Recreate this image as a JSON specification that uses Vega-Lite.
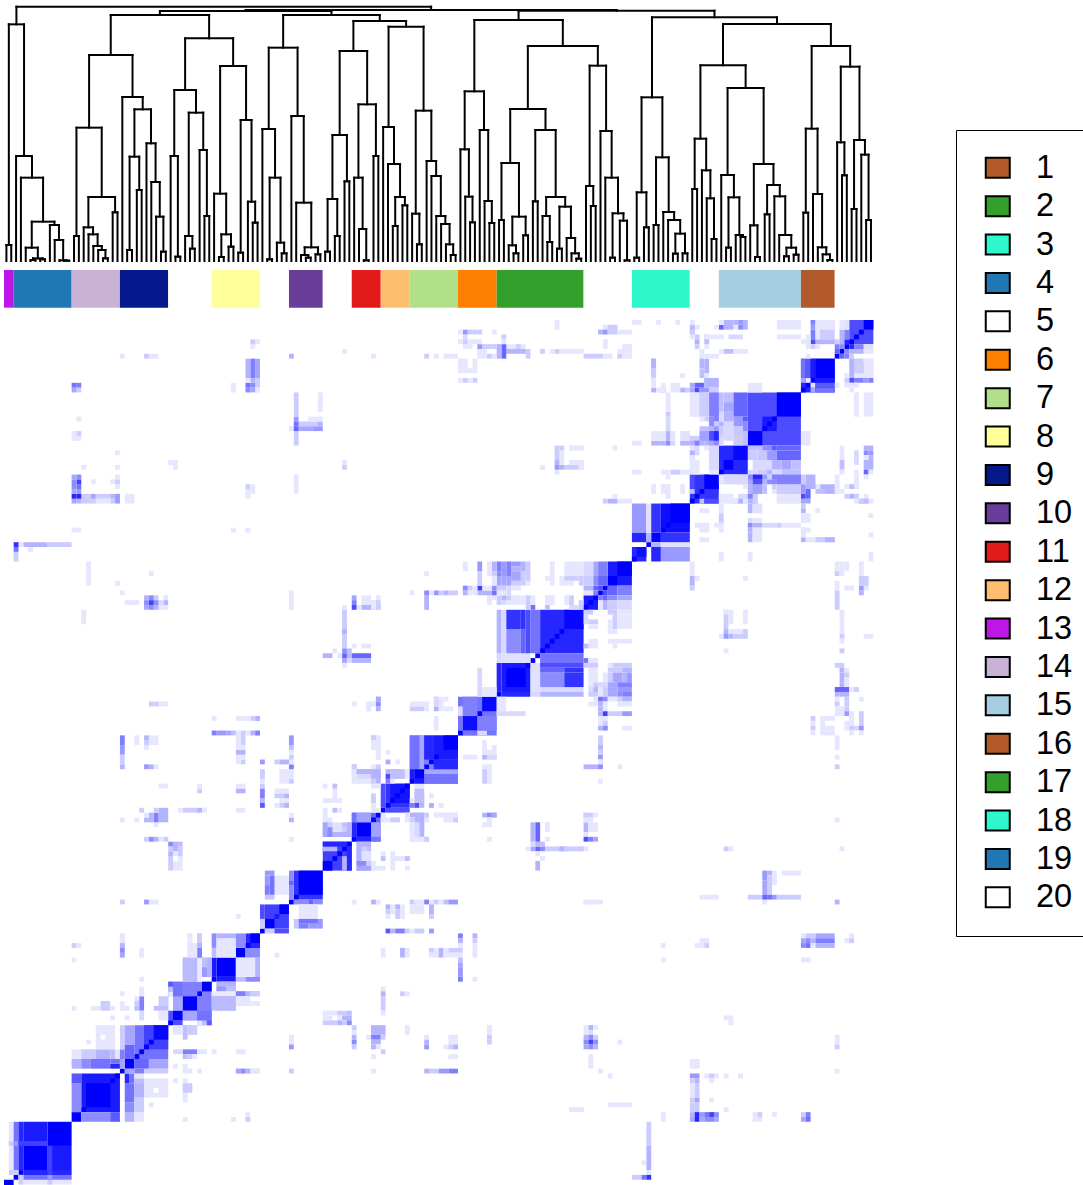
{"$schema":"https://vega.github.io/schema/vega-lite/v6.json","autosize":"none","padding":0,"width":1083,"height":1185,"background":"white",
"resolve":{"scale":{"x":"independent","y":"independent"}},
"config":{"view":{"stroke":null}},
"datasets":{
"tree":[
{"l":0,"r":1,"h":48,"p":0,"q":0},{"l":5,"r":6,"h":3,"p":0,"q":0},{"l":7,"r":8,"h":5,"p":0,"q":0},{"l":5.5,"r":7.5,"h":8,"p":3,"q":5},{"l":4,"r":6.5,"h":40,"p":0,"q":8},{"l":12,"r":13,"h":1,"p":0,"q":0},{"l":11,"r":12.5,"h":2,"p":0,"q":1},{"l":10,"r":11.75,"h":63,"p":0,"q":2},{"l":9,"r":10.88,"h":108,"p":0,"q":63},{"l":5.25,"r":9.94,"h":118,"p":40,"q":108},{"l":3,"r":7.59,"h":250,"p":0,"q":118},{"l":2,"r":5.3,"h":315,"p":0,"q":250},{"l":0.5,"r":3.65,"h":710,"p":48,"q":315},
{"l":14,"r":15,"h":75,"p":0,"q":0},{"l":20,"r":21,"h":8,"p":0,"q":0},{"l":19,"r":20.5,"h":33,"p":0,"q":8},{"l":18,"r":19.75,"h":45,"p":0,"q":33},{"l":17,"r":18.88,"h":80,"p":0,"q":45},{"l":16,"r":17.94,"h":101,"p":0,"q":80},{"l":22,"r":23,"h":146,"p":0,"q":0},{"l":16.97,"r":22.5,"h":192,"p":101,"q":146},{"l":14.5,"r":19.73,"h":400,"p":75,"q":192},{"l":25,"r":26,"h":33,"p":0,"q":0},{"l":27,"r":28,"h":213,"p":0,"q":0},{"l":25.5,"r":27.5,"h":313,"p":33,"q":213},{"l":32,"r":33,"h":28,"p":0,"q":0},{"l":31,"r":32.5,"h":133,"p":0,"q":28},{"l":30,"r":31.75,"h":237,"p":0,"q":133},{"l":29,"r":30.88,"h":353,"p":0,"q":237},{"l":26.5,"r":29.94,"h":455,"p":313,"q":353},{"l":24,"r":28.22,"h":492,"p":0,"q":455},{"l":17.12,"r":26.11,"h":618,"p":400,"q":492},
{"l":35,"r":36,"h":13,"p":0,"q":0},{"l":34,"r":35.5,"h":315,"p":0,"q":13},{"l":38,"r":39,"h":37,"p":0,"q":0},{"l":37,"r":38.5,"h":75,"p":0,"q":37},{"l":41,"r":42,"h":135,"p":0,"q":0},{"l":40,"r":41.5,"h":333,"p":0,"q":135},{"l":37.75,"r":40.75,"h":445,"p":75,"q":333},{"l":34.75,"r":39.25,"h":513,"p":315,"q":445},{"l":44,"r":45,"h":12,"p":0,"q":0},{"l":46,"r":47,"h":43,"p":0,"q":0},{"l":44.5,"r":46.5,"h":80,"p":12,"q":43},{"l":43,"r":45.5,"h":202,"p":0,"q":80},{"l":48,"r":49,"h":25,"p":0,"q":0},{"l":51,"r":52,"h":115,"p":0,"q":0},{"l":50,"r":51.5,"h":178,"p":0,"q":115},{"l":48.5,"r":50.75,"h":423,"p":25,"q":178},{"l":44.25,"r":49.62,"h":585,"p":202,"q":423},{"l":37,"r":46.94,"h":668,"p":513,"q":585},{"l":21.6,"r":41.97,"h":738,"p":618,"q":668},
{"l":54,"r":55,"h":5,"p":0,"q":0},{"l":57,"r":58,"h":23,"p":0,"q":0},{"l":56,"r":57.5,"h":55,"p":0,"q":23},{"l":54.5,"r":56.75,"h":250,"p":5,"q":55},{"l":53,"r":55.62,"h":396,"p":0,"q":250},{"l":62,"r":63,"h":10,"p":0,"q":0},{"l":61,"r":62.5,"h":18,"p":0,"q":10},{"l":64,"r":65,"h":20,"p":0,"q":0},{"l":61.75,"r":64.5,"h":41,"p":18,"q":20},{"l":60,"r":63.12,"h":175,"p":0,"q":41},{"l":59,"r":61.56,"h":435,"p":0,"q":175},{"l":54.31,"r":60.28,"h":640,"p":396,"q":435},
{"l":66,"r":67,"h":28,"p":0,"q":0},{"l":68,"r":69,"h":75,"p":0,"q":0},{"l":66.5,"r":68.5,"h":186,"p":28,"q":75},{"l":70,"r":71,"h":239,"p":0,"q":0},{"l":67.5,"r":70.5,"h":378,"p":186,"q":239},{"l":74,"r":75,"h":2,"p":0,"q":0},{"l":73,"r":74.5,"h":96,"p":0,"q":2},{"l":72,"r":73.75,"h":250,"p":0,"q":96},{"l":76,"r":77,"h":315,"p":0,"q":0},{"l":72.88,"r":76.5,"h":470,"p":250,"q":315},{"l":69,"r":74.69,"h":630,"p":378,"q":470},
{"l":80,"r":81,"h":105,"p":0,"q":0},{"l":82,"r":83,"h":167,"p":0,"q":0},{"l":80.5,"r":82.5,"h":192,"p":105,"q":167},{"l":79,"r":81.5,"h":291,"p":0,"q":192},{"l":78,"r":80.25,"h":402,"p":0,"q":291},{"l":85,"r":86,"h":50,"p":0,"q":0},{"l":84,"r":85.5,"h":142,"p":0,"q":50},{"l":92,"r":93,"h":18,"p":0,"q":0},{"l":91,"r":92.5,"h":50,"p":0,"q":18},{"l":90,"r":91.75,"h":111,"p":0,"q":50},{"l":89,"r":90.88,"h":135,"p":0,"q":111},{"l":88,"r":89.94,"h":255,"p":0,"q":135},{"l":87,"r":88.97,"h":300,"p":0,"q":255},{"l":84.75,"r":87.98,"h":451,"p":142,"q":300},{"l":79.12,"r":86.37,"h":703,"p":402,"q":451},{"l":71.84,"r":82.75,"h":720,"p":630,"q":703},{"l":57.3,"r":77.3,"h":738,"p":640,"q":720},{"l":31.78,"r":67.3,"h":750,"p":738,"q":738},
{"l":96,"r":97,"h":116,"p":0,"q":0},{"l":95,"r":96.5,"h":193,"p":0,"q":116},{"l":94,"r":95.75,"h":335,"p":0,"q":193},{"l":100,"r":101,"h":114,"p":0,"q":0},{"l":99,"r":100.5,"h":180,"p":0,"q":114},{"l":98,"r":99.75,"h":393,"p":0,"q":180},{"l":94.88,"r":98.88,"h":509,"p":335,"q":393},{"l":102,"r":103,"h":123,"p":0,"q":0},{"l":105,"r":106,"h":23,"p":0,"q":0},{"l":104,"r":105.5,"h":47,"p":0,"q":23},{"l":107,"r":108,"h":77,"p":0,"q":0},{"l":104.75,"r":107.5,"h":133,"p":47,"q":77},{"l":102.5,"r":106.12,"h":294,"p":123,"q":133},{"l":109,"r":110,"h":179,"p":0,"q":0},{"l":112,"r":113,"h":57,"p":0,"q":0},{"l":111,"r":112.5,"h":135,"p":0,"q":57},{"l":114,"r":115,"h":37,"p":0,"q":0},{"l":118,"r":119,"h":7,"p":0,"q":0},{"l":117,"r":118.5,"h":23,"p":0,"q":7},{"l":116,"r":117.75,"h":69,"p":0,"q":23},{"l":114.5,"r":116.88,"h":163,"p":37,"q":69},{"l":111.75,"r":115.69,"h":192,"p":135,"q":163},{"l":109.5,"r":113.72,"h":393,"p":179,"q":192},{"l":104.31,"r":111.61,"h":456,"p":294,"q":393},{"l":121,"r":122,"h":165,"p":0,"q":0},{"l":120,"r":121.5,"h":225,"p":0,"q":165},{"l":125,"r":126,"h":10,"p":0,"q":0},{"l":128,"r":129,"h":2,"p":0,"q":0},{"l":127,"r":128.5,"h":121,"p":0,"q":2},{"l":125.5,"r":127.75,"h":143,"p":10,"q":121},{"l":124,"r":126.62,"h":250,"p":0,"q":143},{"l":123,"r":125.31,"h":390,"p":0,"q":250},{"l":120.75,"r":124.16,"h":586,"p":225,"q":390},{"l":107.96,"r":122.45,"h":645,"p":456,"q":586},{"l":96.88,"r":115.2,"h":723,"p":509,"q":645},
{"l":130,"r":131,"h":10,"p":0,"q":0},{"l":132,"r":133,"h":101,"p":0,"q":0},{"l":130.5,"r":132.5,"h":206,"p":10,"q":101},{"l":134,"r":135,"h":108,"p":0,"q":0},{"l":138,"r":139,"h":22,"p":0,"q":0},{"l":140,"r":141,"h":23,"p":0,"q":0},{"l":138.5,"r":140.5,"h":82,"p":22,"q":23},{"l":137,"r":139.5,"h":123,"p":0,"q":82},{"l":136,"r":138.25,"h":147,"p":0,"q":123},{"l":134.5,"r":137.12,"h":311,"p":108,"q":147},{"l":131.5,"r":135.81,"h":491,"p":206,"q":311},
{"l":146,"r":147,"h":66,"p":0,"q":0},{"l":145,"r":146.5,"h":188,"p":0,"q":66},{"l":144,"r":145.75,"h":272,"p":0,"q":188},{"l":142,"r":143,"h":216,"p":0,"q":0},{"l":142.5,"r":144.88,"h":367,"p":216,"q":272},{"l":149,"r":150,"h":40,"p":0,"q":0},{"l":152,"r":153,"h":72,"p":0,"q":0},{"l":151,"r":152.5,"h":78,"p":0,"q":72},{"l":149.5,"r":151.75,"h":191,"p":40,"q":78},{"l":148,"r":150.62,"h":258,"p":0,"q":191},{"l":155,"r":156,"h":12,"p":0,"q":0},{"l":154,"r":155.5,"h":107,"p":0,"q":12},{"l":157,"r":158,"h":140,"p":0,"q":0},{"l":161,"r":162,"h":14,"p":0,"q":0},{"l":163,"r":164,"h":19,"p":0,"q":0},{"l":161.5,"r":163.5,"h":40,"p":14,"q":19},{"l":160,"r":162.5,"h":78,"p":0,"q":40},{"l":159,"r":161.25,"h":194,"p":0,"q":78},{"l":157.5,"r":160.12,"h":228,"p":140,"q":194},{"l":154.75,"r":158.81,"h":291,"p":107,"q":228},{"l":149.31,"r":156.78,"h":519,"p":258,"q":291},{"l":143.69,"r":153.05,"h":587,"p":367,"q":519},
{"l":165,"r":166,"h":145,"p":0,"q":0},{"l":170,"r":171,"h":3,"p":0,"q":0},{"l":169,"r":170.5,"h":20,"p":0,"q":3},{"l":168,"r":169.75,"h":41,"p":0,"q":20},{"l":167,"r":168.88,"h":201,"p":0,"q":41},{"l":165.5,"r":167.94,"h":397,"p":145,"q":201},{"l":173,"r":174,"h":257,"p":0,"q":0},{"l":172,"r":173.5,"h":356,"p":0,"q":257},{"l":175,"r":176,"h":156,"p":0,"q":0},{"l":178,"r":179,"h":123,"p":0,"q":0},{"l":177,"r":178.5,"h":319,"p":0,"q":123},{"l":175.5,"r":177.75,"h":363,"p":156,"q":319},{"l":172.75,"r":176.62,"h":583,"p":356,"q":363},{"l":166.72,"r":174.69,"h":645,"p":397,"q":583},{"l":148.37,"r":170.7,"h":711,"p":587,"q":645},{"l":133.66,"r":159.54,"h":731,"p":491,"q":711},{"l":106.04,"r":146.6,"h":751,"p":723,"q":731},{"l":49.54,"r":126.32,"h":753,"p":750,"q":751},{"l":2.07,"r":87.93,"h":763,"p":710,"q":753}
],
"segments":[
{"cluster":13,"s":0,"e":2},{"cluster":19,"s":2,"e":14},{"cluster":14,"s":14,"e":24},{"cluster":9,"s":24,"e":34},{"cluster":5,"s":34,"e":43},{"cluster":8,"s":43,"e":53},{"cluster":20,"s":53,"e":59},{"cluster":10,"s":59,"e":66},{"cluster":5,"s":66,"e":72},{"cluster":11,"s":72,"e":78},{"cluster":12,"s":78,"e":84},{"cluster":7,"s":84,"e":94},{"cluster":6,"s":94,"e":102},{"cluster":2,"s":102,"e":120},{"cluster":5,"s":120,"e":130},{"cluster":3,"s":130,"e":142},{"cluster":20,"s":142,"e":148},{"cluster":15,"s":148,"e":165},{"cluster":1,"s":165,"e":172},{"cluster":20,"s":172,"e":180}
],
"sq":[
{"lo":0,"hi":2,"v":1},{"lo":2,"hi":3,"v":1},{"lo":3,"hi":4,"v":1},{"lo":4,"hi":9,"v":1},{"lo":9,"hi":14,"v":1},
{"lo":14,"hi":16,"v":1},{"lo":16,"hi":24,"v":0.9},{"lo":17,"hi":22,"v":1},{"lo":16,"hi":17,"v":1},{"lo":22,"hi":23,"v":1},{"lo":23,"hi":24,"v":1},
{"lo":24,"hi":25,"v":1},{"lo":25,"hi":27,"v":1},{"lo":27,"hi":34,"v":0.55},{"lo":29,"hi":34,"v":0.75},{"lo":31,"hi":34,"v":0.97},{"lo":27,"hi":28,"v":1},{"lo":28,"hi":29,"v":1},{"lo":29,"hi":30,"v":1},{"lo":30,"hi":31,"v":1},
{"lo":34,"hi":43,"v":0.5},{"lo":34,"hi":35,"v":1},{"lo":35,"hi":37,"v":1},{"lo":37,"hi":40,"v":1},{"lo":40,"hi":41,"v":1},{"lo":41,"hi":43,"v":1},
{"lo":43,"hi":44,"v":1},{"lo":44,"hi":48,"v":1},{"lo":48,"hi":50,"v":1},{"lo":50,"hi":53,"v":0.85},{"lo":51,"hi":53,"v":1},{"lo":50,"hi":51,"v":1},
{"lo":53,"hi":54,"v":1},{"lo":54,"hi":59,"v":0.75},{"lo":54,"hi":56,"v":1},{"lo":56,"hi":57,"v":0.9},{"lo":57,"hi":59,"v":1},{"lo":59,"hi":60,"v":1},
{"lo":60,"hi":66,"v":0.8},{"lo":61,"hi":66,"v":1},{"lo":60,"hi":61,"v":1},
{"lo":66,"hi":72,"v":0.75},{"lo":66,"hi":68,"v":1},{"lo":68,"hi":69,"v":1},{"lo":69,"hi":70,"v":1},{"lo":70,"hi":71,"v":1},{"lo":71,"hi":72,"v":1},
{"lo":72,"hi":78,"v":0.5},{"lo":72,"hi":73,"v":1},{"lo":73,"hi":76,"v":1},{"lo":76,"hi":78,"v":0.6},{"lo":76,"hi":77,"v":1},{"lo":77,"hi":78,"v":1},
{"lo":78,"hi":79,"v":1},{"lo":79,"hi":84,"v":0.8},{"lo":80,"hi":84,"v":0.92},{"lo":79,"hi":80,"v":1},{"lo":80,"hi":81,"v":1},{"lo":81,"hi":82,"v":1},{"lo":82,"hi":83,"v":1},{"lo":83,"hi":84,"v":1},
{"lo":84,"hi":94,"v":0.6},{"lo":84,"hi":85,"v":1},{"lo":85,"hi":87,"v":1},{"lo":87,"hi":88,"v":1},{"lo":88,"hi":89,"v":1},{"lo":89,"hi":94,"v":0.9},{"lo":91,"hi":94,"v":1},{"lo":89,"hi":90,"v":1},
{"lo":94,"hi":102,"v":0.55},{"lo":94,"hi":95,"v":1},{"lo":95,"hi":98,"v":0.95},{"lo":98,"hi":99,"v":1},{"lo":99,"hi":102,"v":0.97},
{"lo":102,"hi":103,"v":1},{"lo":103,"hi":109,"v":0.9},{"lo":104,"hi":108,"v":1},{"lo":108,"hi":109,"v":1},{"lo":109,"hi":110,"v":1},{"lo":110,"hi":111,"v":1},{"lo":111,"hi":120,"v":0.85},{"lo":116,"hi":120,"v":0.97},{"lo":111,"hi":112,"v":1},{"lo":112,"hi":113,"v":1},{"lo":113,"hi":114,"v":1},{"lo":114,"hi":115,"v":1},{"lo":115,"hi":116,"v":1},
{"lo":120,"hi":123,"v":0.9},{"lo":120,"hi":121,"v":1},{"lo":121,"hi":122,"v":1},{"lo":122,"hi":123,"v":1},{"lo":123,"hi":124,"v":1},{"lo":124,"hi":125,"v":1},{"lo":125,"hi":130,"v":0.9},{"lo":125,"hi":127,"v":1},{"lo":127,"hi":130,"v":1},
{"lo":130,"hi":133,"v":0.85},{"lo":130,"hi":131,"v":1},{"lo":131,"hi":133,"v":0.95},{"lo":133,"hi":134,"v":1},{"lo":134,"hi":136,"v":1},{"lo":136,"hi":142,"v":0.95},{"lo":136,"hi":137,"v":1},{"lo":137,"hi":138,"v":1},{"lo":138,"hi":142,"v":1},
{"lo":142,"hi":148,"v":0.8},{"lo":142,"hi":143,"v":1},{"lo":143,"hi":144,"v":1},{"lo":144,"hi":145,"v":1},{"lo":145,"hi":148,"v":1},
{"lo":148,"hi":154,"v":0.85},{"lo":148,"hi":149,"v":1},{"lo":149,"hi":151,"v":1},{"lo":151,"hi":154,"v":0.97},
{"lo":154,"hi":165,"v":0.7},{"lo":154,"hi":157,"v":1},{"lo":157,"hi":160,"v":0.9},{"lo":157,"hi":158,"v":1},{"lo":158,"hi":159,"v":1},{"lo":159,"hi":160,"v":1},{"lo":160,"hi":165,"v":1},
{"lo":165,"hi":172,"v":0.85},{"lo":165,"hi":166,"v":1},{"lo":166,"hi":167,"v":1},{"lo":167,"hi":168,"v":1},{"lo":168,"hi":172,"v":1},
{"lo":172,"hi":173,"v":1},{"lo":173,"hi":174,"v":1},{"lo":174,"hi":175,"v":1},{"lo":175,"hi":180,"v":0.7},{"lo":175,"hi":176,"v":1},{"lo":176,"hi":177,"v":1},{"lo":177,"hi":178,"v":1},{"lo":178,"hi":180,"v":1}
],
"off":[
{"a":4,"c":14,"b":1,"d":2,"v":0.1},{"a":9,"c":10,"b":1,"d":2,"v":0.2},{"a":4,"c":14,"b":2,"d":3,"v":0.55},{"a":9,"c":10,"b":2,"d":3,"v":0.4},{"a":3,"c":4,"b":2,"d":3,"v":0.2},{"a":3,"c":4,"b":1,"d":2,"v":0.2},{"a":4,"c":14,"b":3,"d":4,"v":0.85},{"a":9,"c":10,"b":3,"d":4,"v":0.75},{"a":9,"c":14,"b":4,"d":9,"v":0.9},{"a":9,"c":10,"b":4,"d":9,"v":0.75},
{"a":16,"c":22,"b":14,"d":16,"v":0.45},{"a":22,"c":24,"b":14,"d":16,"v":0.65},
{"a":25,"c":27,"b":14,"d":16,"v":0.3},{"a":25,"c":27,"b":16,"d":18,"v":0.45},{"a":25,"c":27,"b":18,"d":22,"v":0.55},{"a":25,"c":26,"b":22,"d":24,"v":0.85},{"a":26,"c":27,"b":22,"d":24,"v":0.55},{"a":27,"c":29,"b":14,"d":16,"v":0.1},{"a":27,"c":29,"b":16,"d":19,"v":0.2},{"a":27,"c":29,"b":19,"d":22,"v":0.3},{"a":27,"c":29,"b":22,"d":23,"v":0.25},{"a":27,"c":29,"b":23,"d":24,"v":0.1},{"a":29,"c":34,"b":19,"d":23,"v":0.1},{"a":31,"c":32,"b":20,"d":21,"v":0},{"a":30,"c":31,"b":17,"d":18,"v":0.1},
{"a":25,"c":27,"b":24,"d":25,"v":0.35},{"a":27,"c":29,"b":24,"d":25,"v":0.5},{"a":29,"c":34,"b":24,"d":25,"v":0.2},{"a":27,"c":30,"b":25,"d":27,"v":0.6},{"a":30,"c":34,"b":25,"d":27,"v":0.35},
{"a":35,"c":37,"b":34,"d":35,"v":0.7},{"a":40,"c":41,"b":34,"d":35,"v":0.1},{"a":41,"c":42,"b":34,"d":35,"v":0.25},{"a":42,"c":43,"b":34,"d":35,"v":0.65},{"a":37,"c":40,"b":34,"d":35,"v":0},{"a":37,"c":40,"b":35,"d":37,"v":0.35},{"a":40,"c":43,"b":35,"d":37,"v":0.55},{"a":40,"c":43,"b":37,"d":40,"v":0.5},
{"a":37,"c":40,"b":28,"d":29,"v":0.5},{"a":37,"c":38,"b":27,"d":28,"v":0.25},{"a":38,"c":39,"b":27,"d":28,"v":0.2},{"a":39,"c":40,"b":27,"d":28,"v":0.1},{"a":35,"c":37,"b":28,"d":29,"v":0.15},{"a":40,"c":41,"b":28,"d":29,"v":0.1},{"a":38,"c":40,"b":32,"d":34,"v":0.2},{"a":37,"c":38,"b":31,"d":34,"v":0.25},{"a":35,"c":37,"b":32,"d":34,"v":0.1},{"a":37,"c":38,"b":24,"d":26,"v":0.1},{"a":37,"c":38,"b":14,"d":15,"v":0.1},{"a":37,"c":38,"b":18,"d":20,"v":0.1},{"a":37,"c":39,"b":20,"d":22,"v":0.2},{"a":37,"c":38,"b":22,"d":23,"v":0.1},{"a":35,"c":36,"b":22,"d":23,"v":0.1},{"a":35,"c":36,"b":25,"d":26,"v":0.1},{"a":38,"c":39,"b":24,"d":25,"v":0.1},{"a":40,"c":42,"b":28,"d":29,"v":0.1},{"a":40,"c":41,"b":24,"d":25,"v":0.1},{"a":43,"c":44,"b":28,"d":29,"v":0.1},
{"a":44,"c":48,"b":43,"d":44,"v":0.9},{"a":48,"c":50,"b":43,"d":44,"v":0.25},{"a":50,"c":53,"b":43,"d":44,"v":0.45},{"a":48,"c":52,"b":44,"d":48,"v":0.1},{"a":52,"c":53,"b":44,"d":48,"v":0.3},{"a":50,"c":53,"b":48,"d":50,"v":0.45},
{"a":44,"c":48,"b":37,"d":38,"v":0.2},{"a":44,"c":48,"b":38,"d":40,"v":0.27},{"a":44,"c":48,"b":40,"d":41,"v":0.1},{"a":44,"c":48,"b":41,"d":43,"v":0.28},{"a":43,"c":44,"b":38,"d":40,"v":0.2},{"a":50,"c":53,"b":38,"d":39,"v":0.08},{"a":50,"c":53,"b":40,"d":41,"v":0.25},{"a":48,"c":50,"b":38,"d":40,"v":0.1},{"a":48,"c":50,"b":40,"d":41,"v":0.45},
{"a":48,"c":53,"b":24,"d":25,"v":0.15},{"a":50,"c":51,"b":14,"d":15,"v":0.2},{"a":50,"c":51,"b":15,"d":16,"v":0.1},{"a":47,"c":48,"b":14,"d":15,"v":0.1},{"a":48,"c":50,"b":28,"d":29,"v":0.1},{"a":56,"c":57,"b":48,"d":49,"v":0.1},
{"a":44,"c":48,"b":42,"d":43,"v":0.3},{"a":44,"c":46,"b":41,"d":42,"v":0.4},{"a":46,"c":48,"b":41,"d":42,"v":0.25},{"a":43,"c":48,"b":40,"d":41,"v":0.08},{"a":48,"c":50,"b":40,"d":41,"v":0.5},{"a":50,"c":51,"b":40,"d":41,"v":0.3},{"a":51,"c":53,"b":40,"d":41,"v":0.2},{"a":43,"c":48,"b":37,"d":40,"v":0.27},{"a":48,"c":51,"b":38,"d":40,"v":0.1},{"a":52,"c":53,"b":38,"d":39,"v":0.1},
{"a":48,"c":49,"b":24,"d":25,"v":0.35},{"a":49,"c":50,"b":24,"d":25,"v":0.45},{"a":50,"c":51,"b":24,"d":25,"v":0.3},{"a":51,"c":53,"b":24,"d":25,"v":0.1},
{"a":54,"c":56,"b":53,"d":54,"v":0.2},{"a":56,"c":59,"b":53,"d":54,"v":0.7},{"a":60,"c":61,"b":54,"d":56,"v":0.22},
{"a":60,"c":63,"b":59,"d":60,"v":0.45},{"a":63,"c":64,"b":59,"d":60,"v":0.6},{"a":64,"c":66,"b":59,"d":60,"v":0.45},{"a":61,"c":65,"b":56,"d":59,"v":0.1},{"a":61,"c":65,"b":55,"d":56,"v":0.55},{"a":65,"c":66,"b":54,"d":56,"v":0.4},{"a":61,"c":63,"b":54,"d":55,"v":0.5},{"a":63,"c":65,"b":54,"d":55,"v":0.4},
{"a":72,"c":73,"b":59,"d":60,"v":0.1},{"a":76,"c":77,"b":59,"d":60,"v":0.3},{"a":77,"c":78,"b":59,"d":60,"v":0.1},{"a":84,"c":85,"b":59,"d":60,"v":0.2},{"a":85,"c":87,"b":59,"d":60,"v":0.1},{"a":87,"c":88,"b":59,"d":60,"v":0.5},{"a":88,"c":89,"b":59,"d":60,"v":0.1},{"a":89,"c":90,"b":59,"d":60,"v":0.2},{"a":90,"c":91,"b":59,"d":60,"v":0.1},{"a":91,"c":92,"b":59,"d":60,"v":0.25},{"a":92,"c":94,"b":59,"d":60,"v":0.4},{"a":120,"c":121,"b":59,"d":60,"v":0.1},
{"a":79,"c":80,"b":58,"d":59,"v":0.3},{"a":79,"c":80,"b":57,"d":58,"v":0.2},{"a":79,"c":80,"b":56,"d":57,"v":0.1},{"a":80,"c":81,"b":57,"d":59,"v":0.1},{"a":81,"c":82,"b":58,"d":59,"v":0.3},{"a":81,"c":82,"b":56,"d":58,"v":0.2},{"a":82,"c":83,"b":56,"d":59,"v":0.1},{"a":84,"c":87,"b":57,"d":59,"v":0.1},{"a":88,"c":89,"b":57,"d":59,"v":0.3},{"a":88,"c":89,"b":56,"d":57,"v":0.2},
{"a":79,"c":80,"b":53,"d":54,"v":0.65},{"a":80,"c":81,"b":53,"d":54,"v":0.3},{"a":81,"c":83,"b":53,"d":54,"v":0.5},{"a":83,"c":84,"b":53,"d":54,"v":0.2},{"a":84,"c":85,"b":53,"d":54,"v":0.1},{"a":85,"c":87,"b":53,"d":54,"v":0.2},{"a":88,"c":89,"b":53,"d":54,"v":0.4},
{"a":94,"c":95,"b":52,"d":53,"v":0.5},{"a":97,"c":98,"b":52,"d":53,"v":0.3},{"a":94,"c":95,"b":51,"d":52,"v":0.3},{"a":97,"c":98,"b":51,"d":52,"v":0.2},{"a":94,"c":95,"b":50,"d":51,"v":0.1},{"a":97,"c":98,"b":50,"d":51,"v":0.1},
{"a":78,"c":79,"b":48,"d":50,"v":0.1},{"a":82,"c":83,"b":48,"d":50,"v":0.3},{"a":83,"c":84,"b":48,"d":50,"v":0.1},{"a":88,"c":89,"b":49,"d":50,"v":0.2},{"a":89,"c":90,"b":49,"d":50,"v":0.1},{"a":88,"c":90,"b":48,"d":49,"v":0.1},{"a":90,"c":91,"b":48,"d":50,"v":0.3},{"a":91,"c":92,"b":48,"d":50,"v":0.1},{"a":92,"c":95,"b":49,"d":50,"v":0.2},{"a":92,"c":95,"b":48,"d":49,"v":0.1},{"a":97,"c":98,"b":48,"d":50,"v":0.1},
{"a":94,"c":95,"b":47,"d":48,"v":0.25},{"a":94,"c":95,"b":46,"d":47,"v":0.35},{"a":94,"c":95,"b":44,"d":46,"v":0.4},{"a":94,"c":95,"b":43,"d":44,"v":0.5},{"a":97,"c":98,"b":43,"d":44,"v":0.1},
{"a":78,"c":79,"b":41,"d":42,"v":0.1},{"a":78,"c":79,"b":40,"d":41,"v":0.3},{"a":82,"c":83,"b":40,"d":41,"v":0.2},{"a":83,"c":84,"b":40,"d":41,"v":0.1},{"a":78,"c":79,"b":37,"d":40,"v":0.2},{"a":78,"c":79,"b":36,"d":37,"v":0.1},
{"a":66,"c":69,"b":36,"d":37,"v":0.1},{"a":69,"c":71,"b":36,"d":37,"v":0.2},{"a":71,"c":72,"b":36,"d":37,"v":0.25},{"a":66,"c":68,"b":35,"d":36,"v":0.1},{"a":69,"c":70,"b":35,"d":36,"v":0.1},{"a":70,"c":72,"b":35,"d":36,"v":0.3},{"a":66,"c":69,"b":34,"d":35,"v":0.2},{"a":69,"c":70,"b":34,"d":35,"v":0.3},{"a":70,"c":71,"b":34,"d":35,"v":0.2},{"a":71,"c":72,"b":34,"d":35,"v":0.45},
{"a":72,"c":73,"b":33,"d":34,"v":0.2},{"a":72,"c":73,"b":32,"d":33,"v":0.1},{"a":76,"c":79,"b":32,"d":34,"v":0.3},{"a":83,"c":84,"b":32,"d":34,"v":0.1},{"a":100,"c":101,"b":32,"d":34,"v":0.1},{"a":120,"c":121,"b":33,"d":34,"v":0.1},{"a":121,"c":122,"b":33,"d":34,"v":0.3},{"a":122,"c":123,"b":33,"d":34,"v":0.1},{"a":120,"c":121,"b":32,"d":33,"v":0.1},{"a":121,"c":122,"b":32,"d":33,"v":0.15},
{"a":59,"c":60,"b":30,"d":32,"v":0.1},{"a":72,"c":73,"b":31,"d":32,"v":0.3},{"a":75,"c":76,"b":31,"d":32,"v":0.1},{"a":76,"c":78,"b":31,"d":32,"v":0.5},{"a":78,"c":79,"b":31,"d":32,"v":0.2},{"a":87,"c":88,"b":31,"d":32,"v":0.1},{"a":92,"c":94,"b":31,"d":32,"v":0.1},{"a":100,"c":101,"b":31,"d":32,"v":0.2},{"a":120,"c":121,"b":31,"d":32,"v":0.3},{"a":121,"c":122,"b":31,"d":32,"v":0.45},{"a":122,"c":123,"b":31,"d":32,"v":0.2},{"a":172,"c":173,"b":30,"d":32,"v":0.1},
{"a":72,"c":73,"b":30,"d":31,"v":0.45},{"a":76,"c":78,"b":30,"d":31,"v":0.3},{"a":87,"c":88,"b":30,"d":31,"v":0.3},{"a":92,"c":94,"b":30,"d":31,"v":0.1},{"a":100,"c":101,"b":30,"d":31,"v":0.2},{"a":120,"c":121,"b":30,"d":31,"v":0.45},{"a":121,"c":122,"b":30,"d":31,"v":0.75},{"a":122,"c":123,"b":30,"d":31,"v":0.45},{"a":127,"c":128,"b":30,"d":31,"v":0.1},
{"a":59,"c":60,"b":29,"d":30,"v":0.4},{"a":72,"c":73,"b":29,"d":30,"v":0.2},{"a":76,"c":77,"b":29,"d":30,"v":0.3},{"a":77,"c":78,"b":29,"d":30,"v":0.1},{"a":87,"c":88,"b":29,"d":30,"v":0.4},{"a":91,"c":92,"b":29,"d":30,"v":0.1},{"a":92,"c":93,"b":29,"d":30,"v":0.2},{"a":93,"c":94,"b":29,"d":30,"v":0.3},{"a":120,"c":121,"b":29,"d":30,"v":0.35},{"a":121,"c":122,"b":29,"d":30,"v":0.45},{"a":122,"c":123,"b":29,"d":30,"v":0.3},{"a":172,"c":173,"b":29,"d":30,"v":0.2},
{"a":78,"c":79,"b":28,"d":29,"v":0.2},{"a":76,"c":77,"b":27,"d":28,"v":0.1},{"a":92,"c":94,"b":27,"d":28,"v":0.1},{"a":121,"c":122,"b":25,"d":28,"v":0.1},
{"a":59,"c":60,"b":24,"d":25,"v":0.2},{"a":76,"c":77,"b":24,"d":25,"v":0.1},{"a":87,"c":88,"b":24,"d":25,"v":0.3},{"a":88,"c":90,"b":24,"d":25,"v":0.2},{"a":90,"c":92,"b":24,"d":25,"v":0.4},{"a":92,"c":94,"b":24,"d":25,"v":0.5},{"a":123,"c":124,"b":24,"d":25,"v":0.1},{"a":172,"c":173,"b":24,"d":25,"v":0.1},
{"a":117,"c":120,"b":16,"d":17,"v":0.1},{"a":120,"c":124,"b":59,"d":60,"v":0.1},{"a":157,"c":158,"b":59,"d":60,"v":0.1},{"a":172,"c":173,"b":59,"d":60,"v":0.3},
{"a":165,"c":166,"b":52,"d":53,"v":0.1},{"a":166,"c":168,"b":52,"d":53,"v":0.2},{"a":168,"c":172,"b":52,"d":53,"v":0.35},{"a":175,"c":176,"b":52,"d":53,"v":0.1},{"a":165,"c":166,"b":51,"d":52,"v":0.35},{"a":166,"c":167,"b":51,"d":52,"v":0.45},{"a":167,"c":168,"b":51,"d":52,"v":0.3},{"a":168,"c":172,"b":51,"d":52,"v":0.5},{"a":174,"c":175,"b":51,"d":52,"v":0.1},{"a":175,"c":176,"b":51,"d":52,"v":0.2},{"a":165,"c":166,"b":50,"d":51,"v":0.45},{"a":166,"c":167,"b":50,"d":51,"v":0.55},{"a":167,"c":168,"b":50,"d":51,"v":0.1},{"a":168,"c":172,"b":50,"d":51,"v":0.3},{"a":136,"c":137,"b":50,"d":51,"v":0.1},{"a":143,"c":145,"b":50,"d":51,"v":0.1},{"a":145,"c":146,"b":50,"d":51,"v":0.2},{"a":144,"c":146,"b":51,"d":52,"v":0.1},{"a":136,"c":137,"b":47,"d":48,"v":0.1},{"a":165,"c":167,"b":47,"d":48,"v":0.1},{"a":149,"c":151,"b":35,"d":36,"v":0.1},{"a":150,"c":151,"b":34,"d":35,"v":0.1},
{"a":142,"c":144,"b":25,"d":27,"v":0.1},{"a":125,"c":126,"b":23,"d":24,"v":0.1},{"a":142,"c":144,"b":23,"d":24,"v":0.4},{"a":145,"c":146,"b":23,"d":24,"v":0.1},{"a":146,"c":147,"b":23,"d":24,"v":0.2},{"a":147,"c":148,"b":23,"d":24,"v":0.1},{"a":149,"c":150,"b":23,"d":24,"v":0.1},{"a":152,"c":153,"b":23,"d":24,"v":0.1},{"a":142,"c":143,"b":22,"d":23,"v":0.2},{"a":143,"c":144,"b":22,"d":23,"v":0.3},{"a":146,"c":147,"b":22,"d":23,"v":0.1},{"a":142,"c":143,"b":19,"d":22,"v":0.1},{"a":143,"c":144,"b":19,"d":22,"v":0.2},{"a":142,"c":143,"b":18,"d":19,"v":0.2},{"a":143,"c":144,"b":18,"d":19,"v":0.35},{"a":146,"c":147,"b":18,"d":19,"v":0.1},{"a":142,"c":144,"b":16,"d":18,"v":0.2},{"a":125,"c":130,"b":17,"d":18,"v":0.1},{"a":149,"c":150,"b":16,"d":17,"v":0.1},{"a":119,"c":120,"b":16,"d":17,"v":0.1},
{"a":142,"c":143,"b":15,"d":16,"v":0.3},{"a":143,"c":144,"b":15,"d":16,"v":0.85},{"a":144,"c":145,"b":15,"d":16,"v":0.4},{"a":145,"c":146,"b":15,"d":16,"v":0.55},{"a":146,"c":147,"b":15,"d":16,"v":0.75},{"a":147,"c":148,"b":15,"d":16,"v":0.45},{"a":136,"c":137,"b":14,"d":16,"v":0.1},{"a":155,"c":156,"b":14,"d":16,"v":0.1},{"a":156,"c":157,"b":15,"d":16,"v":0.2},{"a":156,"c":157,"b":14,"d":15,"v":0.1},{"a":159,"c":160,"b":15,"d":16,"v":0.1},{"a":165,"c":166,"b":15,"d":16,"v":0.2},{"a":166,"c":167,"b":15,"d":16,"v":0.5},
{"a":142,"c":143,"b":14,"d":15,"v":0.35},{"a":143,"c":144,"b":14,"d":15,"v":0.85},{"a":144,"c":145,"b":14,"d":15,"v":0.35},{"a":145,"c":147,"b":14,"d":15,"v":0.45},{"a":147,"c":148,"b":14,"d":15,"v":0.35},{"a":165,"c":166,"b":14,"d":15,"v":0.35},{"a":166,"c":167,"b":14,"d":15,"v":0.55},
{"a":133,"c":134,"b":9,"d":14,"v":0.2},{"a":133,"c":134,"b":4,"d":9,"v":0.3},{"a":133,"c":134,"b":3,"d":4,"v":0.1},{"a":132,"c":133,"b":5,"d":6,"v":0.1},{"a":130,"c":132,"b":2,"d":3,"v":0.2},{"a":132,"c":133,"b":2,"d":3,"v":0.55},{"a":133,"c":134,"b":2,"d":3,"v":0.8},
{"a":73,"c":74,"b":66,"d":72,"v":0.4},{"a":74,"c":76,"b":66,"d":68,"v":0.3},{"a":74,"c":76,"b":68,"d":70,"v":0.12},{"a":75,"c":76,"b":70,"d":72,"v":0.25},{"a":74,"c":75,"b":70,"d":72,"v":0.2},{"a":76,"c":77,"b":66,"d":68,"v":0.1},{"a":78,"c":79,"b":66,"d":67,"v":0.1},{"a":78,"c":79,"b":68,"d":69,"v":0.25},{"a":78,"c":79,"b":69,"d":70,"v":0.1},{"a":80,"c":81,"b":66,"d":69,"v":0.1},{"a":80,"c":81,"b":69,"d":70,"v":0.1},{"a":81,"c":83,"b":68,"d":69,"v":0.1},{"a":83,"c":84,"b":66,"d":67,"v":0.1},{"a":83,"c":84,"b":68,"d":69,"v":0.25},
{"a":70,"c":71,"b":66,"d":69,"v":0.3},{"a":71,"c":72,"b":66,"d":71,"v":0.85},
{"a":73,"c":76,"b":72,"d":73,"v":0.85},{"a":76,"c":78,"b":72,"d":73,"v":0.55},{"a":76,"c":78,"b":73,"d":76,"v":0.37},
{"a":84,"c":86,"b":77,"d":78,"v":0.3},{"a":86,"c":87,"b":77,"d":78,"v":0.25},{"a":89,"c":94,"b":77,"d":78,"v":0.1},{"a":99,"c":100,"b":77,"d":78,"v":0.3},{"a":100,"c":101,"b":77,"d":78,"v":0.45},{"a":101,"c":102,"b":77,"d":78,"v":0.3},{"a":120,"c":121,"b":77,"d":78,"v":0.2},{"a":84,"c":86,"b":76,"d":77,"v":0.1},{"a":86,"c":87,"b":76,"d":77,"v":0.3},{"a":91,"c":93,"b":76,"d":77,"v":0.1},{"a":93,"c":94,"b":76,"d":77,"v":0.2},{"a":100,"c":101,"b":76,"d":77,"v":0.1},{"a":120,"c":121,"b":76,"d":77,"v":0.1},{"a":78,"c":81,"b":76,"d":77,"v":0.1},{"a":83,"c":84,"b":76,"d":77,"v":0.1},{"a":84,"c":86,"b":74,"d":76,"v":0.1},{"a":86,"c":87,"b":74,"d":76,"v":0.3},{"a":99,"c":101,"b":75,"d":76,"v":0.1},{"a":120,"c":121,"b":74,"d":76,"v":0.3},{"a":84,"c":87,"b":73,"d":74,"v":0.1},{"a":120,"c":121,"b":73,"d":74,"v":0.1},{"a":84,"c":86,"b":72,"d":73,"v":0.1},{"a":86,"c":88,"b":72,"d":73,"v":0.2},{"a":100,"c":101,"b":72,"d":73,"v":0.1},{"a":120,"c":121,"b":72,"d":73,"v":0.7},
{"a":76,"c":78,"b":66,"d":67,"v":0.1},{"a":73,"c":76,"b":66,"d":67,"v":0.35},{"a":73,"c":75,"b":67,"d":68,"v":0.45},{"a":75,"c":76,"b":67,"d":68,"v":0.2},{"a":73,"c":74,"b":68,"d":72,"v":0.3},{"a":74,"c":76,"b":71,"d":72,"v":0.3},
{"a":79,"c":84,"b":78,"d":79,"v":0.7},{"a":84,"c":85,"b":79,"d":80,"v":0.5},{"a":85,"c":86,"b":79,"d":80,"v":0.7},{"a":86,"c":87,"b":79,"d":80,"v":0.3},{"a":88,"c":89,"b":79,"d":80,"v":0.33},{"a":90,"c":91,"b":79,"d":80,"v":0.1},{"a":85,"c":87,"b":80,"d":82,"v":0.3},{"a":88,"c":89,"b":81,"d":82,"v":0.1},{"a":85,"c":86,"b":82,"d":84,"v":0.1},{"a":80,"c":82,"b":76,"d":77,"v":0.2},{"a":83,"c":84,"b":77,"d":78,"v":0.1},{"a":78,"c":79,"b":76,"d":78,"v":0.1},
{"a":93,"c":94,"b":76,"d":77,"v":0.2},{"a":93,"c":94,"b":77,"d":78,"v":0.1},{"a":91,"c":93,"b":76,"d":78,"v":0.1},{"a":89,"c":91,"b":77,"d":78,"v":0.1},{"a":87,"c":88,"b":72,"d":73,"v":0.2},{"a":87,"c":88,"b":76,"d":77,"v":0.1},{"a":87,"c":88,"b":77,"d":78,"v":0.2},{"a":86,"c":87,"b":72,"d":73,"v":0.1},{"a":86,"c":87,"b":73,"d":78,"v":0.3},{"a":85,"c":86,"b":73,"d":76,"v":0.15},{"a":85,"c":86,"b":76,"d":78,"v":0.3},{"a":84,"c":85,"b":72,"d":76,"v":0.1},{"a":84,"c":85,"b":76,"d":77,"v":0.2},{"a":85,"c":87,"b":80,"d":83,"v":0.25},{"a":85,"c":87,"b":83,"d":84,"v":0.1},{"a":84,"c":85,"b":80,"d":81,"v":0.1},
{"a":85,"c":87,"b":84,"d":85,"v":0.9},{"a":87,"c":94,"b":84,"d":85,"v":0.55},{"a":87,"c":94,"b":85,"d":86,"v":0.55},{"a":87,"c":94,"b":86,"d":87,"v":0.35},{"a":88,"c":89,"b":87,"d":88,"v":0.5},{"a":89,"c":94,"b":87,"d":89,"v":0.85},
{"a":95,"c":98,"b":89,"d":90,"v":0.1},{"a":99,"c":100,"b":89,"d":90,"v":0.3},{"a":100,"c":102,"b":89,"d":90,"v":0.2},{"a":99,"c":102,"b":90,"d":91,"v":0.1},{"a":99,"c":100,"b":91,"d":93,"v":0.1},{"a":99,"c":101,"b":87,"d":88,"v":0.1},{"a":99,"c":100,"b":84,"d":87,"v":0.2},{"a":100,"c":101,"b":84,"d":87,"v":0.1},{"a":120,"c":123,"b":87,"d":88,"v":0.3},
{"a":95,"c":98,"b":94,"d":95,"v":0.55},{"a":98,"c":100,"b":94,"d":95,"v":0.15},{"a":98,"c":102,"b":95,"d":98,"v":0.5},
{"a":103,"c":109,"b":102,"d":103,"v":0.85},{"a":109,"c":111,"b":103,"d":109,"v":0.12},{"a":109,"c":111,"b":102,"d":103,"v":0.15},{"a":111,"c":120,"b":109,"d":111,"v":0.55},{"a":111,"c":120,"b":102,"d":103,"v":0.3},{"a":111,"c":120,"b":103,"d":104,"v":0.15},{"a":111,"c":116,"b":104,"d":107,"v":0.45},{"a":116,"c":120,"b":104,"d":107,"v":0.8},{"a":111,"c":116,"b":107,"d":108,"v":0.6},{"a":116,"c":120,"b":107,"d":108,"v":0.8},{"a":111,"c":120,"b":108,"d":109,"v":0.7},
{"a":102,"c":104,"b":99,"d":102,"v":0.1},{"a":104,"c":108,"b":98,"d":99,"v":0.15},{"a":102,"c":104,"b":98,"d":99,"v":0.15},
{"a":101,"c":102,"b":77,"d":78,"v":0.35},{"a":100,"c":101,"b":75,"d":77,"v":0.1},{"a":99,"c":100,"b":75,"d":76,"v":0.1},{"a":101,"c":102,"b":89,"d":90,"v":0.15},{"a":100,"c":101,"b":89,"d":90,"v":0.15},{"a":101,"c":102,"b":91,"d":92,"v":0.1},
{"a":112,"c":117,"b":70,"d":71,"v":0.2},{"a":115,"c":116,"b":70,"d":71,"v":0.3},{"a":111,"c":112,"b":70,"d":71,"v":0.45},{"a":110,"c":111,"b":70,"d":71,"v":0.6},{"a":109,"c":110,"b":70,"d":71,"v":0.35},{"a":108,"c":109,"b":70,"d":71,"v":0.1},{"a":116,"c":120,"b":70,"d":71,"v":0.2},{"a":111,"c":112,"b":71,"d":72,"v":0.25},{"a":110,"c":111,"b":71,"d":72,"v":0.28},{"a":109,"c":110,"b":71,"d":72,"v":0.15},{"a":110,"c":111,"b":72,"d":76,"v":0.6},{"a":109,"c":110,"b":72,"d":76,"v":0.3},{"a":112,"c":113,"b":72,"d":73,"v":0.1},{"a":112,"c":113,"b":74,"d":76,"v":0.1},{"a":110,"c":111,"b":66,"d":68,"v":0.3},{"a":111,"c":112,"b":68,"d":69,"v":0.1},{"a":110,"c":111,"b":69,"d":70,"v":0.1},
{"a":120,"c":122,"b":119,"d":120,"v":0.2},{"a":125,"c":127,"b":119,"d":120,"v":0.2},{"a":127,"c":130,"b":119,"d":120,"v":0.1},{"a":149,"c":150,"b":116,"d":120,"v":0.2},{"a":150,"c":151,"b":117,"d":120,"v":0.1},{"a":153,"c":154,"b":117,"d":120,"v":0.1},{"a":173,"c":174,"b":115,"d":120,"v":0.1},
{"a":120,"c":121,"b":117,"d":119,"v":0.15},{"a":121,"c":123,"b":117,"d":118,"v":0.2},{"a":121,"c":123,"b":116,"d":117,"v":0.1},{"a":125,"c":126,"b":116,"d":118,"v":0.1},{"a":126,"c":127,"b":116,"d":119,"v":0.2},{"a":127,"c":130,"b":116,"d":119,"v":0.1},{"a":125,"c":127,"b":115,"d":116,"v":0.1},{"a":149,"c":150,"b":115,"d":116,"v":0.3},{"a":150,"c":153,"b":115,"d":116,"v":0.1},{"a":153,"c":154,"b":115,"d":116,"v":0.2},
{"a":148,"c":149,"b":114,"d":115,"v":0.1},{"a":149,"c":150,"b":114,"d":115,"v":0.4},{"a":150,"c":151,"b":114,"d":115,"v":0.3},{"a":151,"c":154,"b":114,"d":115,"v":0.2},{"a":173,"c":174,"b":114,"d":115,"v":0.2},{"a":178,"c":180,"b":114,"d":115,"v":0.1},
{"a":121,"c":123,"b":112,"d":114,"v":0.1},{"a":125,"c":130,"b":113,"d":114,"v":0.1},{"a":173,"c":174,"b":113,"d":114,"v":0.1},{"a":120,"c":121,"b":112,"d":113,"v":0.25},{"a":126,"c":127,"b":112,"d":113,"v":0.1},{"a":149,"c":150,"b":111,"d":112,"v":0.1},{"a":173,"c":174,"b":111,"d":112,"v":0.2},{"a":120,"c":121,"b":109,"d":110,"v":0.55},{"a":121,"c":123,"b":109,"d":110,"v":0.1},
{"a":120,"c":123,"b":108,"d":109,"v":0.2},{"a":125,"c":126,"b":108,"d":109,"v":0.1},{"a":126,"c":130,"b":108,"d":109,"v":0.2},{"a":172,"c":174,"b":108,"d":109,"v":0.2},
{"a":121,"c":123,"b":107,"d":108,"v":0.1},{"a":125,"c":128,"b":107,"d":108,"v":0.2},{"a":128,"c":130,"b":107,"d":108,"v":0.3},{"a":173,"c":174,"b":107,"d":108,"v":0.3},{"a":174,"c":175,"b":107,"d":108,"v":0.1},
{"a":121,"c":123,"b":105,"d":107,"v":0.1},{"a":124,"c":125,"b":105,"d":107,"v":0.1},{"a":125,"c":126,"b":105,"d":107,"v":0.2},{"a":126,"c":128,"b":105,"d":107,"v":0.35},{"a":128,"c":129,"b":105,"d":107,"v":0.3},{"a":129,"c":130,"b":105,"d":107,"v":0.4},{"a":173,"c":174,"b":105,"d":107,"v":0.3},{"a":174,"c":175,"b":106,"d":107,"v":0.2},{"a":174,"c":175,"b":105,"d":106,"v":0.1},
{"a":121,"c":122,"b":104,"d":105,"v":0.1},{"a":122,"c":123,"b":104,"d":105,"v":0.2},{"a":123,"c":125,"b":104,"d":105,"v":0.15},{"a":125,"c":127,"b":104,"d":105,"v":0.35},{"a":127,"c":130,"b":104,"d":105,"v":0.5},{"a":173,"c":174,"b":104,"d":105,"v":0.3},{"a":174,"c":175,"b":104,"d":105,"v":0.1},
{"a":121,"c":122,"b":103,"d":104,"v":0.15},{"a":122,"c":123,"b":103,"d":104,"v":0.3},{"a":123,"c":124,"b":103,"d":104,"v":0.1},{"a":124,"c":125,"b":103,"d":104,"v":0.2},{"a":125,"c":127,"b":103,"d":104,"v":0.35},{"a":127,"c":130,"b":103,"d":104,"v":0.4},{"a":172,"c":175,"b":103,"d":104,"v":0.6},{"a":175,"c":176,"b":103,"d":104,"v":0.1},{"a":176,"c":177,"b":103,"d":104,"v":0.2},
{"a":121,"c":123,"b":102,"d":103,"v":0.2},{"a":123,"c":124,"b":102,"d":103,"v":0.1},{"a":124,"c":125,"b":102,"d":103,"v":0.2},{"a":125,"c":127,"b":102,"d":103,"v":0.35},{"a":127,"c":128,"b":102,"d":103,"v":0.45},{"a":128,"c":130,"b":102,"d":103,"v":0.5},{"a":172,"c":173,"b":102,"d":103,"v":0.3},{"a":173,"c":175,"b":102,"d":103,"v":0.3},
{"a":122,"c":123,"b":101,"d":102,"v":0.1},{"a":123,"c":124,"b":101,"d":102,"v":0.55},{"a":124,"c":125,"b":101,"d":102,"v":0.45},{"a":125,"c":127,"b":101,"d":102,"v":0.1},{"a":127,"c":128,"b":101,"d":102,"v":0.2},{"a":128,"c":130,"b":101,"d":102,"v":0.3},{"a":172,"c":173,"b":101,"d":102,"v":0.1},{"a":174,"c":175,"b":101,"d":102,"v":0.2},{"a":177,"c":178,"b":101,"d":102,"v":0.1},
{"a":121,"c":123,"b":100,"d":101,"v":0.1},{"a":123,"c":124,"b":100,"d":101,"v":0.3},{"a":124,"c":125,"b":100,"d":101,"v":0.1},{"a":127,"c":130,"b":100,"d":101,"v":0.1},{"a":172,"c":173,"b":100,"d":101,"v":0.2},{"a":174,"c":175,"b":100,"d":101,"v":0.2},
{"a":123,"c":124,"b":99,"d":100,"v":0.3},{"a":124,"c":125,"b":99,"d":100,"v":0.1},{"a":172,"c":174,"b":99,"d":100,"v":0.1},{"a":174,"c":175,"b":99,"d":100,"v":0.2},
{"a":123,"c":124,"b":98,"d":99,"v":0.3},{"a":124,"c":125,"b":98,"d":99,"v":0.75},{"a":125,"c":128,"b":98,"d":99,"v":0.2},{"a":128,"c":130,"b":98,"d":99,"v":0.4},{"a":172,"c":174,"b":98,"d":99,"v":0.1},{"a":174,"c":175,"b":98,"d":99,"v":0.4},{"a":175,"c":176,"b":98,"d":99,"v":0.1},{"a":177,"c":178,"b":98,"d":99,"v":0.2},
{"a":123,"c":125,"b":97,"d":98,"v":0.1},{"a":167,"c":168,"b":97,"d":98,"v":0.2},{"a":169,"c":172,"b":97,"d":98,"v":0.1},{"a":175,"c":176,"b":96,"d":98,"v":0.1},{"a":177,"c":178,"b":96,"d":98,"v":0.2},{"a":123,"c":124,"b":96,"d":97,"v":0.1},{"a":124,"c":125,"b":96,"d":97,"v":0.2},{"a":167,"c":168,"b":96,"d":97,"v":0.1},{"a":169,"c":170,"b":96,"d":97,"v":0.1},{"a":174,"c":175,"b":96,"d":97,"v":0.1},
{"a":123,"c":124,"b":95,"d":96,"v":0.3},{"a":124,"c":125,"b":95,"d":96,"v":0.45},{"a":128,"c":130,"b":95,"d":96,"v":0.1},{"a":167,"c":168,"b":95,"d":96,"v":0.2},{"a":169,"c":172,"b":95,"d":96,"v":0.1},{"a":174,"c":175,"b":95,"d":96,"v":0.1},{"a":175,"c":176,"b":95,"d":96,"v":0.2},{"a":176,"c":177,"b":95,"d":96,"v":0.15},{"a":177,"c":178,"b":95,"d":96,"v":0.4},{"a":167,"c":168,"b":94,"d":95,"v":0.1},{"a":169,"c":172,"b":94,"d":95,"v":0.1},{"a":175,"c":176,"b":94,"d":95,"v":0.1},{"a":177,"c":178,"b":94,"d":95,"v":0.1},
{"a":123,"c":124,"b":92,"d":94,"v":0.2},{"a":172,"c":173,"b":91,"d":94,"v":0.1},{"a":123,"c":124,"b":91,"d":92,"v":0.3},{"a":123,"c":124,"b":90,"d":91,"v":0.2},{"a":123,"c":124,"b":89,"d":90,"v":0.4},{"a":172,"c":173,"b":89,"d":90,"v":0.1},{"a":123,"c":124,"b":88,"d":89,"v":0.1},{"a":123,"c":124,"b":87,"d":88,"v":0.45},{"a":127,"c":128,"b":87,"d":88,"v":0.1},{"a":172,"c":173,"b":87,"d":88,"v":0.2},{"a":123,"c":124,"b":84,"d":85,"v":0.1},
{"a":120,"c":122,"b":77,"d":78,"v":0.2},{"a":122,"c":123,"b":77,"d":78,"v":0.1},{"a":120,"c":122,"b":76,"d":77,"v":0.1},{"a":172,"c":173,"b":76,"d":77,"v":0.1},{"a":121,"c":123,"b":74,"d":76,"v":0.1},{"a":120,"c":121,"b":70,"d":71,"v":0.1},{"a":119,"c":120,"b":70,"d":71,"v":0.2},{"a":121,"c":122,"b":72,"d":73,"v":0.5},{"a":122,"c":123,"b":72,"d":73,"v":0.35},{"a":149,"c":150,"b":70,"d":71,"v":0.2},{"a":150,"c":151,"b":70,"d":71,"v":0.1},{"a":173,"c":174,"b":70,"d":71,"v":0.1},
{"a":157,"c":158,"b":64,"d":66,"v":0.4},{"a":158,"c":159,"b":65,"d":66,"v":0.3},{"a":158,"c":159,"b":61,"d":65,"v":0.2},{"a":159,"c":160,"b":63,"d":66,"v":0.1},{"a":161,"c":165,"b":65,"d":66,"v":0.1},{"a":157,"c":158,"b":61,"d":64,"v":0.35},{"a":144,"c":148,"b":60,"d":61,"v":0.1},{"a":154,"c":157,"b":60,"d":61,"v":0.2},{"a":157,"c":158,"b":60,"d":61,"v":0.6},{"a":158,"c":159,"b":60,"d":61,"v":0.55},{"a":159,"c":160,"b":60,"d":61,"v":0.4},{"a":160,"c":165,"b":60,"d":61,"v":0.2},
{"a":123,"c":124,"b":120,"d":122,"v":0.1},{"a":124,"c":125,"b":120,"d":122,"v":0.3},{"a":124,"c":125,"b":122,"d":123,"v":0.6},{"a":123,"c":124,"b":122,"d":123,"v":0.5},{"a":124,"c":125,"b":123,"d":124,"v":0.7},{"a":125,"c":127,"b":123,"d":125,"v":0.6},{"a":127,"c":130,"b":123,"d":125,"v":0.5},{"a":125,"c":127,"b":122,"d":123,"v":0.45},{"a":127,"c":130,"b":122,"d":123,"v":0.35},{"a":125,"c":127,"b":120,"d":122,"v":0.2},{"a":127,"c":130,"b":120,"d":122,"v":0.15},
{"a":134,"c":136,"b":130,"d":133,"v":0.85},{"a":134,"c":136,"b":133,"d":134,"v":0.3},{"a":136,"c":142,"b":130,"d":133,"v":0.4},{"a":136,"c":142,"b":133,"d":134,"v":0.12},{"a":136,"c":142,"b":134,"d":136,"v":0.8},
{"a":144,"c":146,"b":140,"d":141,"v":0.1},{"a":148,"c":149,"b":140,"d":142,"v":0.1},{"a":154,"c":155,"b":140,"d":142,"v":0.3},{"a":155,"c":157,"b":140,"d":142,"v":0.12},{"a":148,"c":149,"b":138,"d":140,"v":0.2},{"a":154,"c":155,"b":137,"d":138,"v":0.45},{"a":155,"c":157,"b":137,"d":138,"v":0.3},{"a":157,"c":160,"b":137,"d":138,"v":0.15},{"a":160,"c":161,"b":137,"d":138,"v":0.2},{"a":161,"c":165,"b":137,"d":138,"v":0.1},{"a":154,"c":155,"b":138,"d":139,"v":0.15},{"a":155,"c":157,"b":138,"d":139,"v":0.1},{"a":165,"c":166,"b":136,"d":137,"v":0.3},{"a":154,"c":155,"b":136,"d":137,"v":0.3},{"a":155,"c":157,"b":136,"d":137,"v":0.1},{"a":154,"c":155,"b":134,"d":136,"v":0.3},{"a":155,"c":157,"b":134,"d":136,"v":0.1},{"a":165,"c":166,"b":134,"d":135,"v":0.3},{"a":165,"c":166,"b":135,"d":136,"v":0.1},{"a":166,"c":168,"b":134,"d":135,"v":0.1},{"a":168,"c":172,"b":134,"d":135,"v":0.25},{"a":144,"c":146,"b":134,"d":135,"v":0.1},{"a":148,"c":149,"b":130,"d":132,"v":0.1},{"a":154,"c":155,"b":130,"d":132,"v":0.1},{"a":179,"c":180,"b":130,"d":132,"v":0.1},{"a":179,"c":180,"b":139,"d":140,"v":0.1},{"a":179,"c":180,"b":135,"d":136,"v":0.1},{"a":168,"c":169,"b":140,"d":141,"v":0.1},{"a":165,"c":166,"b":141,"d":142,"v":0.2},{"a":165,"c":166,"b":140,"d":141,"v":0.3},{"a":143,"c":146,"b":137,"d":138,"v":0.1},{"a":147,"c":148,"b":137,"d":138,"v":0.1},{"a":144,"c":146,"b":136,"d":137,"v":0.1},{"a":148,"c":149,"b":136,"d":138,"v":0.1},{"a":148,"c":149,"b":141,"d":142,"v":0.1},
{"a":144,"c":145,"b":142,"d":143,"v":0.25},{"a":145,"c":148,"b":142,"d":143,"v":0.7},
{"a":148,"c":151,"b":147,"d":148,"v":0.1},{"a":151,"c":154,"b":147,"d":148,"v":0.2},{"a":154,"c":155,"b":147,"d":148,"v":0.35},{"a":155,"c":156,"b":147,"d":148,"v":0.8},{"a":156,"c":157,"b":147,"d":148,"v":0.3},{"a":157,"c":158,"b":147,"d":148,"v":0.25},{"a":158,"c":159,"b":147,"d":148,"v":0.3},{"a":159,"c":161,"b":147,"d":148,"v":0.45},{"a":161,"c":165,"b":147,"d":148,"v":0.4},
{"a":148,"c":151,"b":146,"d":147,"v":0.1},{"a":151,"c":154,"b":146,"d":147,"v":0.2},{"a":154,"c":155,"b":146,"d":147,"v":0.45},{"a":155,"c":157,"b":146,"d":147,"v":0.55},{"a":157,"c":159,"b":146,"d":147,"v":0.2},{"a":159,"c":160,"b":146,"d":147,"v":0.35},{"a":160,"c":162,"b":146,"d":147,"v":0.25},{"a":162,"c":165,"b":146,"d":147,"v":0.35},
{"a":154,"c":156,"b":145,"d":146,"v":0.3},{"a":156,"c":157,"b":145,"d":146,"v":0.25},{"a":159,"c":160,"b":145,"d":146,"v":0.2},{"a":160,"c":162,"b":145,"d":146,"v":0.1},{"a":162,"c":164,"b":145,"d":146,"v":0.2},{"a":168,"c":169,"b":145,"d":146,"v":0.1},{"a":169,"c":172,"b":145,"d":146,"v":0.3},{"a":172,"c":173,"b":145,"d":146,"v":0.1},{"a":174,"c":175,"b":145,"d":146,"v":0.1},{"a":175,"c":177,"b":145,"d":146,"v":0.25},
{"a":154,"c":156,"b":144,"d":145,"v":0.3},{"a":156,"c":157,"b":144,"d":145,"v":0.1},{"a":159,"c":160,"b":144,"d":145,"v":0.1},{"a":160,"c":163,"b":144,"d":145,"v":0.15},{"a":163,"c":165,"b":144,"d":145,"v":0.25},
{"a":148,"c":151,"b":143,"d":144,"v":0.1},{"a":152,"c":154,"b":143,"d":144,"v":0.15},{"a":154,"c":156,"b":143,"d":144,"v":0.3},{"a":160,"c":165,"b":143,"d":144,"v":0.1},{"a":176,"c":177,"b":143,"d":144,"v":0.2},{"a":178,"c":179,"b":143,"d":144,"v":0.1},
{"a":148,"c":151,"b":142,"d":143,"v":0.1},{"a":151,"c":152,"b":142,"d":143,"v":0.25},{"a":152,"c":154,"b":142,"d":143,"v":0.2},{"a":154,"c":155,"b":142,"d":143,"v":0.15},{"a":155,"c":156,"b":142,"d":143,"v":0.3},{"a":160,"c":165,"b":142,"d":143,"v":0.1},{"a":176,"c":177,"b":142,"d":143,"v":0.1},{"a":177,"c":179,"b":142,"d":143,"v":0.3},{"a":179,"c":180,"b":142,"d":143,"v":0.1},
{"a":165,"c":166,"b":142,"d":143,"v":0.35},{"a":165,"c":166,"b":143,"d":144,"v":0.7},{"a":165,"c":166,"b":144,"d":146,"v":0.4},{"a":166,"c":167,"b":142,"d":143,"v":0.35},{"a":166,"c":167,"b":143,"d":145,"v":0.6},{"a":166,"c":168,"b":145,"d":148,"v":0.3},{"a":165,"c":166,"b":146,"d":148,"v":0.2},
{"a":154,"c":156,"b":151,"d":153,"v":0.2},{"a":156,"c":158,"b":151,"d":153,"v":0.22},{"a":158,"c":160,"b":151,"d":153,"v":0.4},{"a":160,"c":165,"b":151,"d":153,"v":0.6},{"a":154,"c":157,"b":153,"d":154,"v":0.25},{"a":157,"c":159,"b":153,"d":154,"v":0.45},{"a":159,"c":160,"b":153,"d":154,"v":0.65},{"a":160,"c":165,"b":153,"d":154,"v":0.6},{"a":155,"c":159,"b":149,"d":151,"v":0.15},{"a":159,"c":161,"b":149,"d":151,"v":0.3},{"a":161,"c":163,"b":149,"d":151,"v":0.35},{"a":163,"c":165,"b":149,"d":151,"v":0.25},{"a":154,"c":156,"b":148,"d":149,"v":0.15},{"a":156,"c":158,"b":148,"d":149,"v":0.2},{"a":158,"c":159,"b":148,"d":149,"v":0.3},{"a":159,"c":161,"b":148,"d":149,"v":0.15},{"a":161,"c":165,"b":148,"d":149,"v":0.25},
{"a":160,"c":165,"b":142,"d":144,"v":0.1},{"a":155,"c":156,"b":142,"d":144,"v":0.2},{"a":154,"c":155,"b":142,"d":143,"v":0.3},{"a":154,"c":155,"b":143,"d":144,"v":0.5},{"a":160,"c":165,"b":144,"d":146,"v":0.2},{"a":157,"c":158,"b":144,"d":146,"v":0.25},{"a":155,"c":157,"b":144,"d":146,"v":0.37},{"a":160,"c":165,"b":146,"d":148,"v":0.5},{"a":158,"c":160,"b":146,"d":147,"v":0.45},{"a":157,"c":158,"b":146,"d":147,"v":0.3},{"a":155,"c":157,"b":146,"d":147,"v":0.7},{"a":154,"c":155,"b":146,"d":147,"v":0.35},{"a":159,"c":160,"b":147,"d":148,"v":0.5},{"a":158,"c":159,"b":147,"d":148,"v":0.2},{"a":157,"c":158,"b":147,"d":148,"v":0.4},{"a":155,"c":157,"b":147,"d":148,"v":0.85},{"a":154,"c":155,"b":147,"d":148,"v":0.45},
{"a":152,"c":153,"b":142,"d":143,"v":0.3},{"a":153,"c":154,"b":142,"d":143,"v":0.1},{"a":150,"c":152,"b":142,"d":143,"v":0.1},{"a":149,"c":154,"b":146,"d":148,"v":0.15},{"a":153,"c":154,"b":145,"d":146,"v":0.1},{"a":153,"c":154,"b":119,"d":120,"v":0.1},{"a":153,"c":154,"b":126,"d":127,"v":0.1},{"a":149,"c":151,"b":119,"d":120,"v":0.1},
{"a":165,"c":167,"b":154,"d":157,"v":0.1},
{"a":167,"c":168,"b":165,"d":166,"v":0.35},{"a":168,"c":172,"b":165,"d":166,"v":0.55},{"a":167,"c":168,"b":166,"d":167,"v":0.1},{"a":168,"c":172,"b":166,"d":167,"v":0.65},{"a":168,"c":172,"b":167,"d":168,"v":0.9},
{"a":173,"c":174,"b":172,"d":173,"v":0.6},{"a":174,"c":175,"b":172,"d":173,"v":0.5},{"a":175,"c":176,"b":172,"d":173,"v":0.2},{"a":174,"c":175,"b":173,"d":174,"v":0.45},{"a":175,"c":178,"b":173,"d":174,"v":0.3},{"a":178,"c":180,"b":173,"d":174,"v":0.1},{"a":175,"c":176,"b":174,"d":175,"v":0.85},{"a":176,"c":178,"b":174,"d":175,"v":0.5},{"a":178,"c":180,"b":174,"d":175,"v":0.12},
{"a":175,"c":176,"b":168,"d":172,"v":0.3},{"a":176,"c":178,"b":168,"d":172,"v":0.2},{"a":178,"c":180,"b":169,"d":172,"v":0.1},{"a":179,"c":180,"b":168,"d":169,"v":0.1},{"a":175,"c":176,"b":167,"d":168,"v":0.7},{"a":176,"c":178,"b":167,"d":168,"v":0.5},{"a":178,"c":179,"b":167,"d":168,"v":0.4},{"a":179,"c":180,"b":167,"d":168,"v":0.5},{"a":174,"c":177,"b":166,"d":167,"v":0.1},{"a":175,"c":176,"b":165,"d":166,"v":0.1},
{"a":176,"c":177,"b":160,"d":165,"v":0.1},{"a":178,"c":180,"b":160,"d":165,"v":0.1},
{"a":173,"c":174,"b":151,"d":154,"v":0.1},{"a":173,"c":174,"b":149,"d":151,"v":0.25},{"a":176,"c":177,"b":150,"d":153,"v":0.15},{"a":178,"c":180,"b":153,"d":154,"v":0.3},{"a":178,"c":179,"b":152,"d":153,"v":0.45},{"a":179,"c":180,"b":152,"d":153,"v":0.4},{"a":178,"c":179,"b":151,"d":152,"v":0.1},{"a":179,"c":180,"b":151,"d":152,"v":0.3},{"a":178,"c":180,"b":149,"d":151,"v":0.3},{"a":178,"c":179,"b":148,"d":149,"v":0.6},{"a":179,"c":180,"b":148,"d":149,"v":0.1},{"a":176,"c":177,"b":148,"d":149,"v":0.1},{"a":172,"c":173,"b":146,"d":147,"v":0.1},{"a":176,"c":177,"b":145,"d":148,"v":0.1},
{"a":178,"c":179,"b":142,"d":143,"v":0.25},{"a":177,"c":178,"b":142,"d":143,"v":0.2},{"a":175,"c":176,"b":143,"d":144,"v":0.3},{"a":174,"c":175,"b":143,"d":144,"v":0.2},{"a":178,"c":179,"b":147,"d":148,"v":0.1},
{"a":178,"c":179,"b":124,"d":127,"v":0.1},{"a":177,"c":178,"b":123,"d":124,"v":0.3},{"a":177,"c":178,"b":124,"d":125,"v":0.4},{"a":177,"c":179,"b":125,"d":127,"v":0.2},{"a":177,"c":178,"b":127,"d":130,"v":0.1},{"a":174,"c":176,"b":124,"d":125,"v":0.1},{"a":174,"c":175,"b":128,"d":130,"v":0.1},{"a":172,"c":173,"b":120,"d":124,"v":0.2},{"a":172,"c":173,"b":124,"d":126,"v":0.1},{"a":172,"c":173,"b":127,"d":128,"v":0.2},{"a":172,"c":173,"b":128,"d":130,"v":0.1},{"a":173,"c":174,"b":127,"d":130,"v":0.1},
{"a":178,"c":180,"b":168,"d":172,"v":0.1},{"a":176,"c":178,"b":168,"d":169,"v":0.1},{"a":176,"c":178,"b":169,"d":171,"v":0.2},{"a":174,"c":175,"b":167,"d":168,"v":0.2},{"a":174,"c":175,"b":168,"d":169,"v":0.1},{"a":173,"c":174,"b":144,"d":145,"v":0.1},{"a":173,"c":174,"b":148,"d":149,"v":0.1},{"a":172,"c":173,"b":144,"d":145,"v":0.1},{"a":172,"c":173,"b":166,"d":167,"v":0.1},
{"a":142,"c":143,"b":127,"d":130,"v":0.1},{"a":142,"c":143,"b":125,"d":127,"v":0.3},{"a":143,"c":144,"b":126,"d":127,"v":0.1},{"a":142,"c":143,"b":124,"d":125,"v":0.2},
{"a":170,"c":172,"b":134,"d":135,"v":0.3},{"a":168,"c":170,"b":134,"d":135,"v":0.2},{"a":167,"c":168,"b":134,"d":135,"v":0.1},{"a":165,"c":167,"b":138,"d":140,"v":0.1},{"a":165,"c":167,"b":136,"d":137,"v":0.1},{"a":170,"c":172,"b":144,"d":145,"v":0.3},{"a":168,"c":170,"b":144,"d":145,"v":0.25},{"a":172,"c":173,"b":147,"d":148,"v":0.1},{"a":167,"c":168,"b":145,"d":146,"v":0.3}
]},
"layer":[
{"data":{"name":"sq"},"mark":{"type":"rect","clip":true},"encoding":{"x":{"field":"lo","type":"quantitative","axis":null,"scale":{"domain":[-0.828,223.4],"nice":false,"zero":false}},"x2":{"field":"hi"},"y":{"field":"lo","type":"quantitative","axis":null,"scale":{"domain":[0.911,246.25],"nice":false,"zero":false}},"y2":{"field":"hi"},"color":{"field":"v","type":"quantitative","legend":null,"scale":{"domain":[0,1],"range":["#ffffff","#0000ff"],"interpolate":"rgb"}}}},
{"data":{"name":"off"},"mark":{"type":"rect","clip":true},"encoding":{"x":{"field":"a","type":"quantitative","axis":null,"scale":{"domain":[-0.828,223.4],"nice":false,"zero":false}},"x2":{"field":"c"},"y":{"field":"b","type":"quantitative","axis":null,"scale":{"domain":[0.911,246.25],"nice":false,"zero":false}},"y2":{"field":"d"},"color":{"field":"v","type":"quantitative","legend":null,"scale":{"domain":[0,1],"range":["#ffffff","#0000ff"],"interpolate":"rgb"}}}},
{"data":{"name":"off"},"mark":{"type":"rect","clip":true},"encoding":{"x":{"field":"b","type":"quantitative","axis":null,"scale":{"domain":[-0.828,223.4],"nice":false,"zero":false}},"x2":{"field":"d"},"y":{"field":"a","type":"quantitative","axis":null,"scale":{"domain":[0.911,246.25],"nice":false,"zero":false}},"y2":{"field":"c"},"color":{"field":"v","type":"quantitative","legend":null,"scale":{"domain":[0,1],"range":["#ffffff","#0000ff"],"interpolate":"rgb"}}}},
{"data":{"name":"segments"},"mark":{"type":"rect"},"encoding":{"x":{"field":"s","type":"quantitative","axis":null,"scale":{"domain":[-0.828,223.4],"nice":false,"zero":false}},"x2":{"field":"e"},"y":{"datum":182.55,"type":"quantitative","axis":null,"scale":{"domain":[0.911,246.25],"nice":false,"zero":false}},"y2":{"datum":190.35},"fill":{"field":"cluster","type":"nominal","scale":{"domain":[1,2,3,4,5,6,7,8,9,10,11,12,13,14,15,16,17,18,19,20],"range":["#B15928","#33A02C","#2DF7CB","#1F78B4","#FFFFFF","#FF7F00","#B2DF8A","#FFFF99","#05198C","#6A3D9A","#E31A1C","#FDBF6F","#BC17E7","#CAB2D6","#A6CEE3","#B15928","#33A02C","#2DF7CB","#1F78B4","#FFFFFF"]},"legend":{"title":null,"orient":"none","legendX":956,"legendY":130,"symbolType":"M-1.2,-1H1.2V1H-1.2Z","symbolSize":400,"symbolStrokeColor":"#000000","symbolStrokeWidth":2,"symbolOpacity":1,"labelFontSize":32.5,"labelFont":"Liberation Sans","labelColor":"#000000","labelOffset":22,"rowPadding":5.4,"padding":21.5,"strokeColor":"#000000","symbolOffset":4,"columns":1}}}},
{"data":{"name":"tree"},"mark":{"type":"rule","stroke":"#000000","strokeWidth":2,"strokeCap":"square"},"encoding":{"x":{"field":"l","type":"quantitative","axis":null,"scale":{"domain":[-1.328,222.9],"nice":false,"zero":false}},"x2":{"field":"r"},"y":{"field":"h","type":"quantitative","axis":null,"scale":{"domain":[-2772,783],"nice":false,"zero":false}}}},
{"data":{"name":"tree"},"mark":{"type":"rule","stroke":"#000000","strokeWidth":2,"strokeCap":"square"},"encoding":{"x":{"field":"l","type":"quantitative","axis":null,"scale":{"domain":[-1.328,222.9],"nice":false,"zero":false}},"y":{"field":"p","type":"quantitative","axis":null,"scale":{"domain":[-2772,783],"nice":false,"zero":false}},"y2":{"field":"h"}}},
{"data":{"name":"tree"},"mark":{"type":"rule","stroke":"#000000","strokeWidth":2,"strokeCap":"square"},"encoding":{"x":{"field":"r","type":"quantitative","axis":null,"scale":{"domain":[-1.328,222.9],"nice":false,"zero":false}},"y":{"field":"q","type":"quantitative","axis":null,"scale":{"domain":[-2772,783],"nice":false,"zero":false}},"y2":{"field":"h"}}}
]}
